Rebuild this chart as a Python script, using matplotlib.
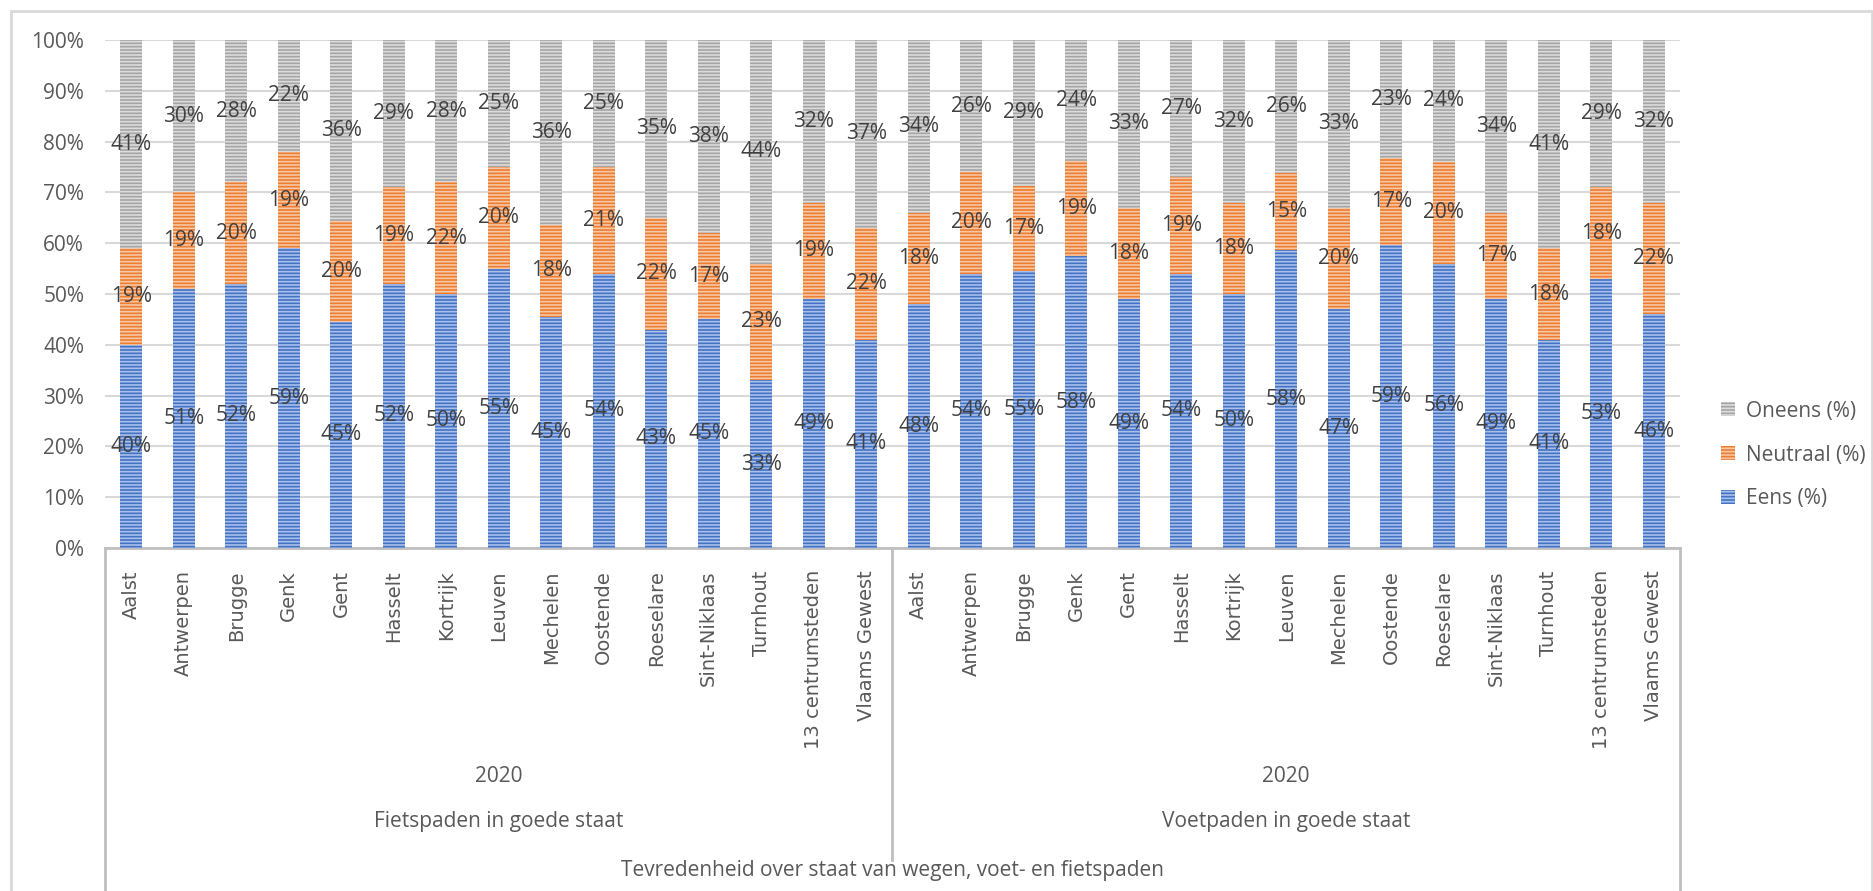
import matplotlib.pyplot as plt
import numpy as np
from matplotlib.patches import Patch, Rectangle
from matplotlib.lines import Line2D

plt.rcParams["hatch.linewidth"] = 1.2

# ## Data

cities = [
    "Aalst", "Antwerpen", "Brugge", "Genk", "Gent", "Hasselt", "Kortrijk",
    "Leuven", "Mechelen", "Oostende", "Roeselare", "Sint-Niklaas", "Turnhout",
    "13 centrumsteden", "Vlaams Gewest",
]
groups = ["Fietspaden in goede staat", "Voetpaden in goede staat"]
year = "2020"
super_title = "Tevredenheid over staat van wegen, voet- en fietspaden"

eens_fiets = [40, 51, 52, 59, 45, 52, 50, 55, 45, 54, 43, 45, 33, 49, 41]
neutraal_fiets = [19, 19, 20, 19, 20, 19, 22, 20, 18, 21, 22, 17, 23, 19, 22]
oneens_fiets = [41, 30, 28, 22, 36, 29, 28, 25, 36, 25, 35, 38, 44, 32, 37]

eens_voet = [48, 54, 55, 58, 49, 54, 50, 58, 47, 59, 56, 49, 41, 53, 46]
neutraal_voet = [18, 20, 17, 19, 18, 19, 18, 15, 20, 17, 20, 17, 18, 18, 22]
oneens_voet = [34, 26, 29, 24, 33, 27, 32, 26, 33, 23, 24, 34, 41, 29, 32]

series_names = ["Eens (%)", "Neutraal (%)", "Oneens (%)"]
face_colors = ["#4472C4", "#ED7D31", "#A5A5A5"]
hatch_colors = ["#A9C0EA", "#F7C7A6", "#DCDCDC"]

# ## Build stacked (100%) values

raw = np.array([
    eens_fiets + eens_voet,
    neutraal_fiets + neutraal_voet,
    oneens_fiets + oneens_voet,
], dtype=float)
share = raw / raw.sum(axis=0) * 100
labels = cities + cities
x = np.arange(len(labels))

W, H = 1874, 891
fig = plt.figure(figsize=(W / 100, H / 100), dpi=100)
ax = fig.add_axes([105 / W, (H - 548) / H, (1680 - 105) / W, (548 - 40) / H])

bottom = np.zeros(len(x))
for i in range(3):
    ax.bar(x, share[i], 0.42, bottom=bottom, color=face_colors[i],
           edgecolor=hatch_colors[i], linewidth=0, hatch="-----", zorder=3)
    for xi, b, h, v in zip(x, bottom, share[i], raw[i]):
        ax.text(xi, b + h / 2, f"{v:.0f}%", ha="center", va="center",
                fontsize=15, color="#404040", family="Open Sans", zorder=4)
    bottom += share[i]

ax.set_xlim(-0.5, len(x) - 0.5)
ax.set_ylim(0, 100)
ax.set_yticks(np.arange(0, 101, 10))
ax.set_yticklabels([f"{t}%" for t in range(0, 101, 10)], family="Open Sans",
                   fontsize=15, color="#595959")
ax.yaxis.grid(True, color="#D9D9D9", linewidth=1.5, zorder=0)
ax.set_axisbelow(True)
ax.tick_params(axis="y", length=0, pad=15)

ax.set_xticks(x)
ax.set_xticklabels(labels, rotation=90, fontsize=14, color="#595959",
                   family="DejaVu Sans", va="top", ha="center")
ax.tick_params(axis="x", length=0, pad=16)

for s in ["top", "right", "left"]:
    ax.spines[s].set_visible(False)
ax.spines["bottom"].set_color("#BFBFBF")
ax.spines["bottom"].set_linewidth(2)

# multi-level category axis
tr = ax.get_xaxis_transform()
n = len(cities)
for g, name in enumerate(groups):
    cx = g * n + (n - 1) / 2
    ax.text(cx, -0.449, year, transform=tr, ha="center", va="center",
            fontsize=15, color="#595959", family="Open Sans")
    ax.text(cx, -0.539, name, transform=tr, ha="center", va="center",
            fontsize=15, color="#595959", family="Open Sans")
ax.text((len(x) - 1) / 2, -0.634, super_title, transform=tr, ha="center",
        va="center", fontsize=15, color="#595959", family="Open Sans")

for xv, ybot in [(-0.5, -0.7), (n - 0.5, -0.614), (len(x) - 0.5, -0.7)]:
    ax.add_line(Line2D([xv, xv], [0, ybot], transform=tr, color="#BFBFBF",
                       linewidth=2, clip_on=False))

# chart border
fig.add_artist(Rectangle((11 / W, -0.01), (1872 - 11) / W, (H - 11) / H + 0.01,
                         transform=fig.transFigure, fill=False,
                         edgecolor="#D9D9D9", linewidth=2))

handles = [Patch(facecolor=face_colors[i], edgecolor=hatch_colors[i],
                 linewidth=0, hatch="-----") for i in [2, 1, 0]]
fig.legend(handles, [series_names[i] for i in [2, 1, 0]],
           loc="center left", bbox_to_anchor=(1721 / W, (H - 455) / H),
           frameon=False, prop={"family": "Open Sans", "size": 15},
           labelcolor="#595959", handlelength=0.67, handleheight=0.67,
           handletextpad=0.55, labelspacing=1.1, borderpad=0, borderaxespad=0)

fig.savefig("out.png", dpi=100, facecolor="white")
